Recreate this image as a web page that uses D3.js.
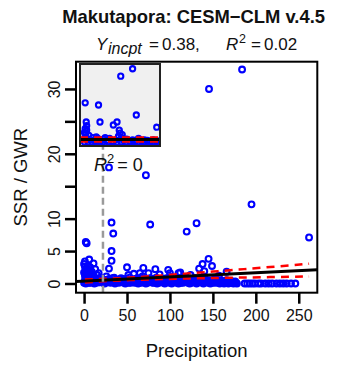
<!DOCTYPE html>
<html>
<head>
<meta charset="utf-8">
<script src="https://cdn.jsdelivr.net/npm/d3@7"></script>
<style>
body { margin: 0; background: #fff; }
svg { display: block; font-family: "Liberation Sans", Arial, Helvetica, sans-serif; }
</style>
</head>
<body>
<svg id="chart" width="337" height="365"></svg>
<script>
// values
const titleText = "Makutapora: CESM\u2212CLM v.4.5";
const yIncpt = 0.38, fitSlope = 0.0064, rSq = "0.02", insetRSq = "0";
const thresholdPrecip = 22;

const xTicks = [0, 50, 100, 150, 200, 250];
const yTicks = [0, 5, 10, 15, 20, 25, 30];
const yTickLabels = [0, 5, 10, 20, 30];

// scattered points above the main band [precip, ssr/gwr]
const scatterPts = [
  [184, 33], [145.5, 30], [29, 17.9], [72, 16.7], [32, 9.4], [34, 7.7], [77, 9.1],
  [2, 6.4], [3, 6.2], [32, 5.0], [32, 3.5], [6, 3.7], [29, 2.3], [50, 2.5], [69, 2.4],
  [83, 2.2], [119.5, 8.0], [131, 9.3], [195, 12.2], [262, 7.1], [145, 3.8], [138, 3.0],
  [149, 2.7], [134, 2.3], [112, 1.7], [166, 1.8], [11, 3.1], [17, 1.6], [1, 2.6],
  [51.6, 1.3], [65, 1.6], [75, 1.6], [98, 2.1], [100, 1.6], [110, 1.6], [2, 2.0], [4, 1.4],
  [0, 3.0], [1, 3.4], [3, 2.4], [5, 1.9], [7, 2.5], [9, 1.8], [13, 2.2], [0, 1.7], [8, 1.2],
  [58, 1.5], [88, 1.4], [124, 1.3], [157, 1.2], [140, 1.9]
];

// dense band near zero
const bandPts = [
  [0,0.1],[1,0.5],[1,1.2],[2,0.8],[2,1.6],[3,0.2],[3,2.0],[4,1.1],[5,0.4],[5,2.6],[6,0.9],[7,0.1],
  [8,1.5],[9,0.6],[10,0.2],[11,1.0],[12,0.3],[13,0.7],[14,0.1],[15,1.3],[16,0.5],[18,0.2],[19,0.9],
  [20,0.4],[22,0.1],[23,0.6],[25,0.3],[26,1.1],[28,0.2],[29,0.7],[31,0.1],[32,0.5],[34,0.3],[35,0.9],
  [37,0.2],[38,0.6],[40,0.1],[41,0.4],[43,0.8],[44,0.2],[46,0.5],[47,0.1],[49,0.7],[50,0.3],[52,0.1],
  [53,0.9],[55,0.4],[56,0.2],[58,0.6],[59,0.1],[61,0.3],[62,0.8],[64,0.2],[65,0.5],[67,0.1],[68,1.1],
  [70,0.4],[71,0.2],[73,0.6],[74,0.1],[76,0.3],[78,0.7],[79,0.2],[81,0.4],[82,0.1],[84,0.9],[86,0.3],
  [87,0.1],[89,0.5],[90,0.2],[92,0.7],[93,0.1],[95,0.4],[97,0.2],[98,0.6],[100,0.1],[101,1.0],[103,0.3],
  [105,0.2],[106,0.5],[108,0.1],[109,0.7],[111,0.3],[113,0.1],[114,0.4],[116,0.9],[117,0.2],[119,0.6],
  [121,0.1],[122,0.3],[124,0.5],[125,0.1],[127,0.2],[129,0.8],[130,0.4],[132,0.1],[133,0.3],[135,0.6],
  [137,0.2],[138,0.1],[140,0.4],[141,0.7],[143,0.2],[145,0.1],[146,0.5],[148,0.3],[149,0.1],[151,0.6],
  [153,0.2],[154,0.4],[156,0.1],[157,0.3],[159,0.5],[161,0.1],[162,0.2],[164,0.4],[165,0.1],[167,0.3],
  [169,0.2],[170,0.1],[172,0.3],[173,0.1],[175,0.2],[177,0.1],
  [2,0.0],[4,0.3],[6,0.1],[8,0.5],[10,0.9],[12,0.0],[14,0.6],[17,0.2],[21,0.7],[24,0.0],[27,0.5],
  [30,0.3],[33,0.8],[36,0.0],[39,0.4],[42,0.2],[45,0.7],[48,0.0],[51,0.6],[54,0.1],[57,0.4],[60,0.7],
  [63,0.0],[66,0.4],[69,0.7],[72,0.0],[75,0.5],[77,0.8],[80,0.1],[83,0.5],[85,0.0],[88,0.7],[91,0.3],
  [94,0.0],[96,0.8],[99,0.3],[102,0.0],[104,0.6],[107,0.3],[110,0.0],[112,0.6],[115,0.1],[118,0.4],
  [120,0.8],[123,0.0],[126,0.6],[128,0.3],[131,0.0],[134,0.7],[136,0.4],[139,0.0],[142,0.5],[144,0.3],
  [147,0.0],[150,0.4],[152,0.1],[155,0.6],[158,0.0],[160,0.3],[163,0.0],[166,0.5],[168,0.0],[171,0.4],
  [174,0.0],[176,0.3],[178,0.0]
];

// isolated row of zeros at the high-precip end
const zeroRowPts = [
  [187,0],[190,0],[193,0],[196,0],[199,0],[203,0],[206,0],[211,0],[215,0],
  [219,0],[224,0],[228,0],[232,0],[236,0],[241,0],[246,0]
];

// confidence band (red dashed)
const ciX = [1, 30, 60, 90, 120, 150, 180, 210, 240, 262];
const ciUpper = [0.63, 0.74, 0.96, 1.24, 1.53, 1.84, 2.15, 2.47, 2.80, 3.04];
const ciLower = [0.15, 0.40, 0.56, 0.68, 0.77, 0.84, 0.91, 0.97, 1.04, 1.08];

// inset plot (own units, no axes)
const insetPts = [
  [67,9.9],[51,8.9],[3,5.3],[21,5.0],[72,3.65],[4.4,2.7],[23,2.7],[41,2.3],[46,2.7],[99.6,2.0],
  [3,1.8],[4,1.2],[5,2.2],[3,0.7],[6,0.4],[8,0.9],[10,0.3],[13,0.6],[16,0.2],[20,0.5],[24,0.1],
  [28,0.4],[32,0.2],[36,0.5],[40,0.1],[44,0.3],[48,0.8],[50,1.2],[52,0.6],[55,0.2],[59,0.4],
  [63,0.1],[67,0.3],[71,0.2],[75,0.5],[79,0.1],[83,0.3],[87,0.2],[91,0.1],[95,0.3],[99,0.2],
  [2,0],[7,0],[12,0],[17,0],[22,0],[27,0],[34,0],[40,0],[46,0],[52,0],[58,0],[64,0],[70,0],
  [76,0],[82,0],[88,0],[94,0],[100,0],[4,0.5],[2,1.3],[5,1.6],[18,0.7],[30,0.6],[49,1.6],[53,1.0]
];
const insetFit = 0.34, insetUpper = 0.62, insetLower = 0.07;

const svg = d3.select("#chart");

const x = d3.scaleLinear().domain([-9.4, 271.6]).range([76, 317.3]);
const y = d3.scaleLinear().domain([-1.42, 34.2]).range([292.7, 61.7]);

svg.append("clipPath").attr("id", "plotClip")
    .append("rect")
    .attr("x", x.range()[0]).attr("y", y.range()[1])
    .attr("width", x.range()[1] - x.range()[0])
    .attr("height", y.range()[0] - y.range()[1]);

const plot = svg.append("g").attr("clip-path", "url(#plotClip)");

const drawPts = (g, pts, sx, sy, r) => {
    g.selectAll(null)
        .data(pts)
        .enter().append("circle")
        .attr("cx", d => sx(d[0]))
        .attr("cy", d => sy(d[1]))
        .attr("r", r)
        .attr("fill", "none")
        .attr("stroke", "#0000ff")
        .attr("stroke-width", 2.1);
};

drawPts(plot, bandPts, x, y, 2.9);
drawPts(plot, zeroRowPts, x, y, 2.9);
drawPts(plot, scatterPts, x, y, 2.9);

// confidence lines
const ciLine = vals => d3.line()
    .x((d, i) => x(ciX[i]))
    .y(d => y(d))
    .curve(d3.curveNatural)(vals);

[ciUpper, ciLower].forEach(vals => {
    plot.append("path")
        .attr("d", ciLine(vals))
        .attr("fill", "none")
        .attr("stroke", "#ff0000")
        .attr("stroke-width", 2.5)
        .attr("stroke-dasharray", "8,6");
});

// fitted line across whole panel
const xd = x.domain();
plot.append("line")
    .attr("x1", x(xd[0])).attr("y1", y(yIncpt + fitSlope * xd[0]))
    .attr("x2", x(xd[1])).attr("y2", y(yIncpt + fitSlope * xd[1]))
    .attr("stroke", "#000")
    .attr("stroke-width", 3);

// vertical grey dashed marker
plot.append("line")
    .attr("x1", x(thresholdPrecip)).attr("x2", x(thresholdPrecip))
    .attr("y1", y.range()[0]).attr("y2", y.range()[1])
    .attr("stroke", "#9a9a9a")
    .attr("stroke-width", 2.5)
    .attr("stroke-dasharray", "7,4");

// ---- inset ----
const xi = d3.scaleLinear().domain([-4, 104]).range([80, 160]);
const yi = d3.scaleLinear().domain([-0.54, 10.54]).range([146, 64]);

svg.append("clipPath").attr("id", "insetClip")
    .append("rect")
    .attr("x", 80).attr("y", 64).attr("width", 80).attr("height", 82);

svg.append("rect")
    .attr("x", 80).attr("y", 64).attr("width", 80).attr("height", 82)
    .attr("fill", "#f0f0f0");

const inset = svg.append("g").attr("clip-path", "url(#insetClip)");
drawPts(inset, insetPts, xi, yi, 2.6);

[insetUpper, insetLower].forEach(v => {
    inset.append("line")
        .attr("x1", xi(-4)).attr("x2", xi(104))
        .attr("y1", yi(v)).attr("y2", yi(v))
        .attr("stroke", "#ff0000")
        .attr("stroke-width", 2.5)
        .attr("stroke-dasharray", "8,6");
});
inset.append("line")
    .attr("x1", xi(-4)).attr("x2", xi(104))
    .attr("y1", yi(insetFit)).attr("y2", yi(insetFit))
    .attr("stroke", "#000")
    .attr("stroke-width", 3);

svg.append("rect")
    .attr("x", 80).attr("y", 64).attr("width", 80).attr("height", 82)
    .attr("fill", "none")
    .attr("stroke", "#222")
    .attr("stroke-width", 2);

// inset R^2 label
const r2 = svg.append("text")
    .attr("x", 94).attr("y", 171)
    .style("font-size", "18px")
    .attr("fill", "#111");
r2.append("tspan").style("font-style", "italic").text("R");
r2.append("tspan").attr("dy", -8).style("font-size", "13px").text("2");
r2.append("tspan").attr("dy", 8).attr("dx", 3).text("= " + insetRSq);

// box
svg.append("rect")
    .attr("x", x.range()[0]).attr("y", y.range()[1])
    .attr("width", x.range()[1] - x.range()[0])
    .attr("height", y.range()[0] - y.range()[1])
    .attr("fill", "none")
    .attr("stroke", "#000")
    .attr("stroke-width", 2);

// axes
const xAxis = svg.append("g")
    .attr("transform", `translate(0,${y.range()[0]})`)
    .call(d3.axisBottom(x).tickValues(xTicks).tickSize(11).tickSizeOuter(0).tickPadding(6));

const yAxis = svg.append("g")
    .attr("transform", `translate(${x.range()[0]},0)`)
    .call(d3.axisLeft(y).tickValues(yTicks).tickSize(11).tickSizeOuter(0)
        .tickFormat(d => yTickLabels.includes(d) ? d : ""));

[xAxis, yAxis].forEach(g => {
    g.select(".domain").remove();
    g.selectAll(".tick line").attr("stroke", "#000").attr("stroke-width", 2.5);
    g.selectAll("text").style("font-size", "16px").attr("fill", "#111")
        .style("font-family", "\"Liberation Sans\", Arial, sans-serif");
});

yAxis.selectAll(".tick text")
    .attr("transform", "rotate(-90)")
    .attr("x", 0).attr("y", -16).attr("dy", 0)
    .attr("text-anchor", "middle");

// titles
const cx = (x.range()[0] + x.range()[1]) / 2;
svg.append("text")
    .attr("x", cx - 3).attr("y", 23)
    .attr("text-anchor", "middle")
    .style("font-size", "18.4px").style("font-weight", "bold")
    .attr("fill", "#111")
    .text(titleText);

// subtitle pieces laid out left to right like the plotmath expression
const sub = svg.append("g").attr("fill", "#111").style("font-size", "17px");
const subPart = (px, py, txt, italic, size) => sub.append("text")
    .attr("x", px).attr("y", py)
    .style("font-style", italic ? "italic" : "normal")
    .style("font-size", size ? size + "px" : null)
    .text(txt);
subPart(96, 50, "Y", true);
subPart(108, 54, "incpt", true, 16);
subPart(149, 50, "=", false);
subPart(162, 50, yIncpt.toFixed(2) + ",", false);
subPart(226, 50, "R", true);
subPart(239, 43, "2", false, 12.5);
subPart(251, 50, "=", false);
subPart(264, 50, rSq, false);

svg.append("text")
    .attr("x", cx).attr("y", 357)
    .attr("text-anchor", "middle")
    .style("font-size", "18.5px")
    .attr("fill", "#111")
    .text("Precipitation");

svg.append("text")
    .attr("transform", `translate(27,${(y(0) + y(30)) / 2 - 9}) rotate(-90)`)
    .attr("text-anchor", "middle")
    .style("font-size", "18.5px")
    .attr("fill", "#111")
    .text("SSR / GWR");
</script>
</body>
</html>
